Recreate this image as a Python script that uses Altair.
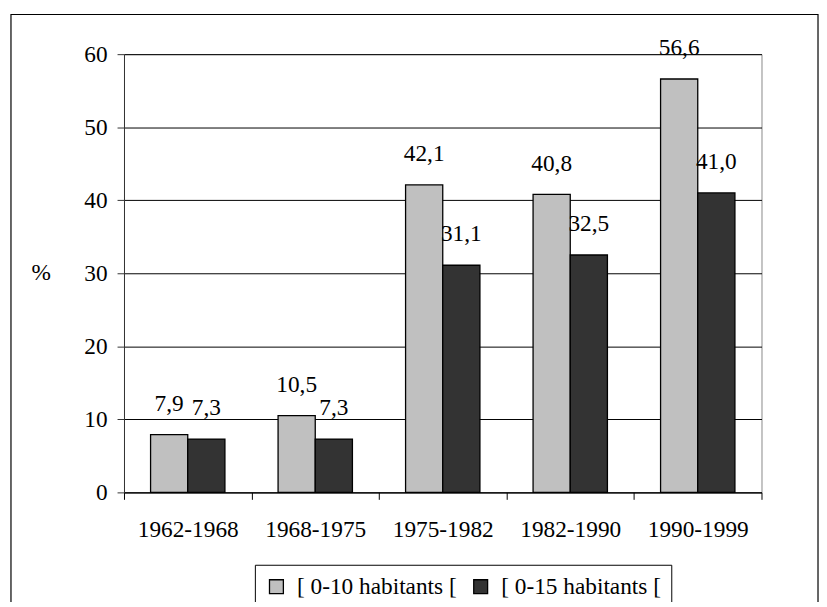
import altair as alt
import pandas as pd

periods = ["1962-1968", "1968-1975", "1975-1982", "1982-1990", "1990-1999"]
series = ["[ 0-10 habitants [", "[ 0-15 habitants ["]
values_0_10 = [7.9, 10.5, 42.1, 40.8, 56.6]
values_0_15 = [7.3, 7.3, 31.1, 32.5, 41.0]
colors = ["#C0C0C0", "#333333"]
y_ticks = [0, 10, 20, 30, 40, 50, 60]

rows = []
for p, a, b in zip(periods, values_0_10, values_0_15):
    rows.append({"period": p, "series": series[0], "value": a})
    rows.append({"period": p, "series": series[1], "value": b})
df = pd.DataFrame(rows)

FONT = "Liberation Serif"
FS = 23.5

x_enc = alt.X(
    "period:N",
    sort=periods,
    scale=alt.Scale(paddingInner=0, paddingOuter=0),
    axis=alt.Axis(
        title=None, labelAngle=0, tickBand="extent", grid=False,
        domainColor="black", tickColor="black", tickSize=7,
        labelFont=FONT, labelFontSize=FS, labelColor="black", labelPadding=18,
    ),
)
xoff_enc = alt.XOffset(
    "series:N", sort=series,
    scale=alt.Scale(paddingInner=0, paddingOuter=0.715),
)
y_enc = alt.Y(
    "value:Q",
    scale=alt.Scale(domain=[0, 60], nice=False),
    axis=alt.Axis(
        values=y_ticks, title="%", titleAngle=0, titleX=-84, titleY=220,
        titleAlign="center", titleBaseline="middle", titleFont=FONT,
        titleFontSize=FS, titleFontWeight="normal", titleColor="black",
        grid=True, gridColor="black", gridWidth=1,
        domainColor="#333333", tickColor="#333333", tickSize=7,
        labelFont=FONT, labelFontSize=FS, labelColor="black", labelPadding=10,
    ),
)

base = alt.Chart(df).encode(x=x_enc, xOffset=xoff_enc)

bars = base.mark_bar(stroke="black", strokeWidth=1.3).encode(
    y=y_enc,
    color=alt.Color(
        "series:N",
        scale=alt.Scale(domain=series, range=colors),
        title=None,
        legend=alt.Legend(
            orient="none", legendX=132, legendY=515, direction="horizontal",
            padding=10, strokeColor="black", fillColor="white",
            labelFont=FONT, labelFontSize=FS, labelColor="black", labelLimit=400,
            symbolType="square", symbolSize=196, symbolStrokeColor="black",
            symbolStrokeWidth=1.3, symbolOpacity=1, labelOffset=9, columnPadding=12,
        ),
    ),
)

labels = base.mark_text(
    dy=-31, font=FONT, fontSize=FS, color="black", baseline="middle"
).transform_calculate(
    label="replace(format(datum.value, '.1f'), '.', ',')"
).encode(y=alt.Y("value:Q"), text="label:N")

border = alt.Chart(alt.Data(values=[{"b": 1}])).mark_rect(
    fillOpacity=0, stroke="black", strokeWidth=1.2
).encode(
    x=alt.value(-114), x2=alt.value(700), y=alt.value(-40), y2=alt.value(580)
)

chart = alt.layer(bars, labels, border).properties(
    width=643, height=442,
    autosize=alt.AutoSizeParams(type="none"),
    padding={"left": 117, "top": 44, "right": 58, "bottom": 108},
    background="white",
).configure_view(stroke="#888888", strokeWidth=1)

chart.save("out.html", embed_options={"renderer": "svg", "actions": False})
